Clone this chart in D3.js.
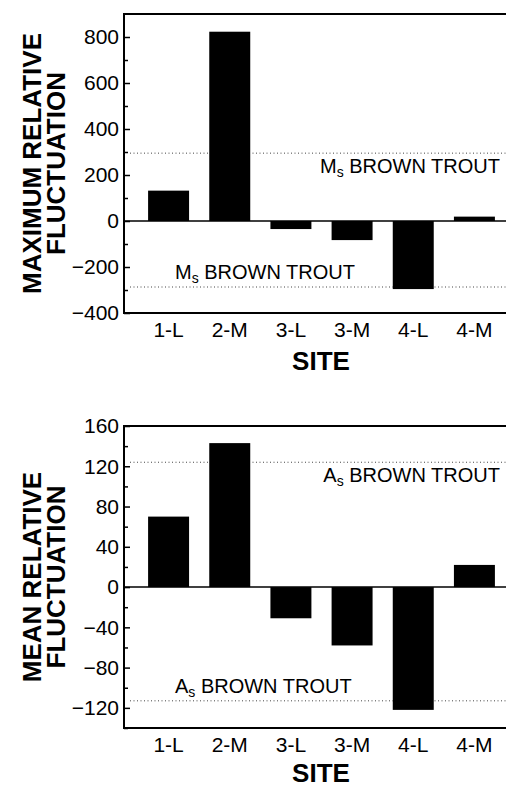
<!DOCTYPE html>
<html>
<head>
<meta charset="utf-8">
<script src="https://cdn.jsdelivr.net/npm/d3@7"></script>
<style>
  body { margin: 0; background: #fff; }
  text { font-family: "Liberation Sans", Arial, Helvetica, sans-serif; fill: #000; }
</style>
</head>
<body>
<div class="visual"></div>
<script>
//data
const sites = ["1-L", "2-M", "3-L", "3-M", "4-L", "4-M"];
const maxFluct = [132, 823, -35, -83, -296, 19];
const meanFluct = [70, 143, -31, -58, -122, 22];
const maxRef = [295, -287];   // Ms brown trout, upper and lower
const meanRef = [124, -113];  // As brown trout, upper and lower
const maxTicks = [-400, -200, 0, 200, 400, 600, 800];
const maxMinor = [-300, -100, 100, 300, 500, 700];
const meanTicks = [-120, -80, -40, 0, 40, 80, 120, 160];
const meanMinor = [-140, -100, -60, -20, 20, 60, 100, 140];

const width = 506, height = 789;

const svg = d3.select(".visual")
              .append("svg")
              .attr("width", width)
              .attr("height", height);

const x = d3.scaleBand().domain(sites).range([138, 505])
            .paddingInner(0.33).paddingOuter(0.165);

function panel(opts) {
  const g = svg.append("g");
  const y = d3.scaleLinear().domain(opts.domain).range([opts.bottom, opts.top]);
  const left = 124, right = 520;

  // reference dotted lines
  g.selectAll(".ref")
    .data(opts.refs)
    .enter()
    .append("line")
    .attr("x1", 130).attr("x2", right)
    .attr("y1", d => y(d)).attr("y2", d => y(d))
    .attr("stroke", "#444")
    .attr("stroke-width", 1)
    .attr("stroke-dasharray", "1,2.5");

  // bars
  g.selectAll(".bar")
    .data(opts.values)
    .enter()
    .append("rect")
    .attr("x", (d, i) => x(sites[i]))
    .attr("width", x.bandwidth())
    .attr("y", d => y(Math.max(0, d)))
    .attr("height", d => Math.abs(y(d) - y(0)))
    .attr("fill", "#000");

  // zero line
  g.append("line")
    .attr("x1", left).attr("x2", right)
    .attr("y1", y(0)).attr("y2", y(0))
    .attr("stroke", "#000").attr("stroke-width", 1.6);

  // frame
  g.append("rect")
    .attr("x", left).attr("y", y(opts.domain[1]))
    .attr("width", right - left)
    .attr("height", y(opts.domain[0]) - y(opts.domain[1]))
    .attr("fill", "none")
    .attr("stroke", "#000")
    .attr("stroke-width", 2);

  // y axis, ticks pointing inward
  const yAxis = g.append("g")
    .attr("transform", "translate(" + left + ",0)")
    .call(d3.axisLeft(y).tickValues(opts.ticks).tickSize(-6).tickPadding(5));
  yAxis.select(".domain").remove();
  yAxis.selectAll("line").attr("stroke-width", 1.5);
  yAxis.selectAll("text").style("font-size", "21px").attr("font-family", null);

  const yMinor = g.append("g")
    .attr("transform", "translate(" + left + ",0)")
    .call(d3.axisLeft(y).tickValues(opts.minor).tickSize(-4).tickFormat(""));
  yMinor.select(".domain").remove();
  yMinor.selectAll("line").attr("stroke-width", 1.5);

  // x axis labels
  const xAxis = g.append("g")
    .attr("transform", "translate(0," + opts.bottom + ")")
    .call(d3.axisBottom(x).tickSize(0).tickPadding(9));
  xAxis.select(".domain").remove();
  xAxis.selectAll("text").style("font-size", "21px").attr("font-family", null);

  g.append("text")
    .attr("x", 321)
    .attr("y", opts.bottom + opts.siteDy)
    .attr("text-anchor", "middle")
    .style("font-size", "26px")
    .style("font-weight", "bold")
    .text("SITE");

  // y title, two lines
  const cy = (opts.top + opts.bottom) / 2;
  opts.title.forEach((t, i) => {
    g.append("text")
      .attr("transform", "translate(" + (41 + i * 24) + "," + cy + ") rotate(-90)")
      .attr("text-anchor", "middle")
      .style("font-size", "26px")
      .style("font-weight", "bold")
      .text(t);
  });

  // brown trout labels
  function label(xp, yp, anchor) {
    const t = g.append("text")
      .attr("x", xp).attr("y", yp)
      .attr("text-anchor", anchor)
      .style("font-size", "20px");
    t.append("tspan").text(opts.letter);
    t.append("tspan").attr("dy", 4).style("font-size", "14px").text("s");
    t.append("tspan").attr("dy", -4).text(" BROWN TROUT");
  }
  label(500, y(opts.refs[0]) + 20, "end");
  label(175, y(opts.refs[1]) - 8, "start");
}

panel({domain: [-400, 900], top: 14, bottom: 313, values: maxFluct, refs: maxRef,
       ticks: maxTicks, minor: maxMinor, title: ["MAXIMUM RELATIVE", "FLUCTUATION"],
       letter: "M", siteDy: 57});
panel({domain: [-140, 160], top: 426, bottom: 728, values: meanFluct, refs: meanRef,
       ticks: meanTicks, minor: meanMinor, title: ["MEAN RELATIVE", "FLUCTUATION"],
       letter: "A", siteDy: 54});
</script>
</body>
</html>
